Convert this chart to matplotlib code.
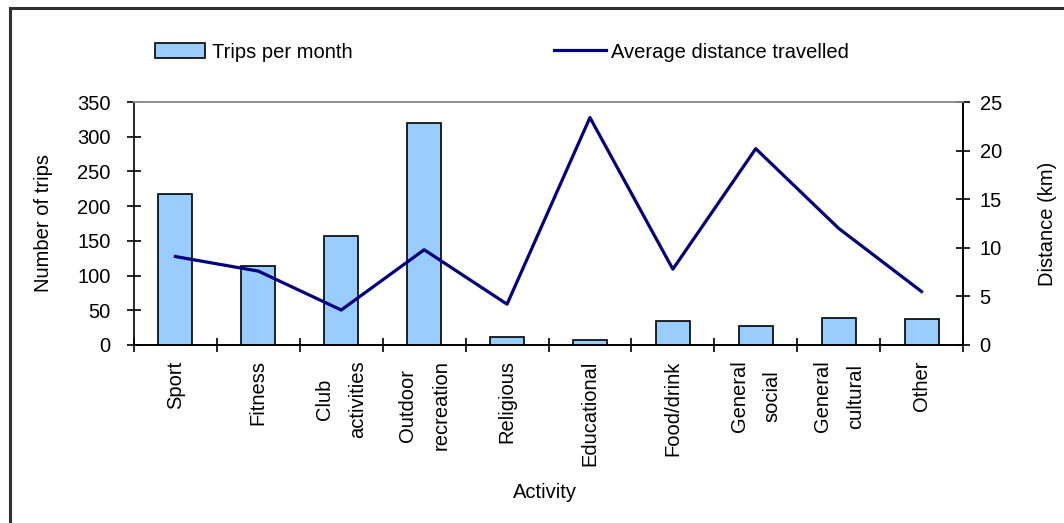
import numpy as np
import matplotlib
matplotlib.use("Agg")
import matplotlib.pyplot as plt
from matplotlib.lines import Line2D
from matplotlib.patches import Patch

#------------------------------------ chart data
activities = ["Sport", "Fitness", "Club\nactivities", "Outdoor\nrecreation",
              "Religious", "Educational", "Food/drink", "General\nsocial",
              "General\ncultural", "Other"]
trips = [218, 114, 157, 320, 11, 7, 35, 28, 39, 37]
distance = [9.1, 7.6, 3.6, 9.8, 4.2, 23.4, 7.8, 20.2, 12.0, 5.5]

plt.rcParams["font.family"] = ["Liberation Sans", "DejaVu Sans"]
plt.rcParams["font.size"] = 14.5

W, H = 1064, 523
fig = plt.figure(figsize=(W / 100, H / 100), dpi=100)

# plot area in pixels: x 134..963, y 102..345
ax = fig.add_axes([134 / W, 1 - 345 / H, (963 - 134) / W, (345 - 102) / H])
ax2 = ax.twinx()

xs = np.arange(len(activities))
ax.bar(xs, trips, width=0.41, color="#99ccff", edgecolor="black",
       linewidth=1.2, zorder=2)
ax2.plot(xs, distance, color="#000080", linewidth=2.3, zorder=3)

ax.set_xlim(-0.5, len(activities) - 0.5)
ax.set_ylim(0, 350)
ax.set_yticks(np.arange(0, 351, 50))
ax2.set_ylim(0, 25)
ax2.set_yticks(np.arange(0, 26, 5))

# category boundary ticks, labels centred on categories
ax.set_xticks(np.arange(-0.5, len(activities), 1.0))
ax.set_xticklabels([])
ax.set_xticks(xs, minor=True)
ax.set_xticklabels(activities, minor=True, rotation=90, va="top",
                   ha="center", multialignment="center", linespacing=1.95)
ax.tick_params(axis="x", which="minor", length=0, pad=11)
ax.tick_params(axis="x", which="major", direction="inout", length=10,
               width=1.2)
ax.tick_params(axis="y", direction="inout", length=10, width=1.2, pad=12)
ax2.tick_params(axis="y", direction="inout", length=10, width=1.2, pad=7)

for a in (ax, ax2):
    a.spines["top"].set_color("#909090")
    a.spines["top"].set_linewidth(1.2)
    for s in ("left", "right", "bottom"):
        a.spines[s].set_linewidth(1.2)
ax2.spines["left"].set_visible(False)

ax.set_ylabel("Number of trips")
ax.yaxis.set_label_coords(-0.098, 0.5)
ax2.set_ylabel("Distance (km)")
ax2.yaxis.set_label_coords(1.0905, 0.5)
fig.text(545 / W, 1 - 492 / H, "Activity", ha="center", va="center")

#------------------------------------ legend, two entries placed separately
fig.legend([Patch(facecolor="#99ccff", edgecolor="black", linewidth=1.2)],
           ["Trips per month"], loc="center left",
           bbox_to_anchor=(137 / W, 1 - 52 / H), frameon=False,
           handlelength=2.5, handleheight=0.7, handletextpad=0.3)
fig.legend([Line2D([], [], color="#000080", linewidth=2.3)],
           ["Average distance travelled"], loc="center left",
           bbox_to_anchor=(536 / W, 1 - 52 / H), frameon=False,
           handlelength=2.6, handletextpad=0.2)

#------------------------------------ outer frame (top and left edges)
fig.add_artist(Line2D([10 / W, 10 / W], [0, 1 - 8 / H], color="#303030",
                      linewidth=2.2, transform=fig.transFigure))
fig.add_artist(Line2D([10 / W, 1], [1 - 8 / H, 1 - 8 / H], color="#303030",
                      linewidth=2.2, transform=fig.transFigure))

fig.savefig("out.png", dpi=100)
